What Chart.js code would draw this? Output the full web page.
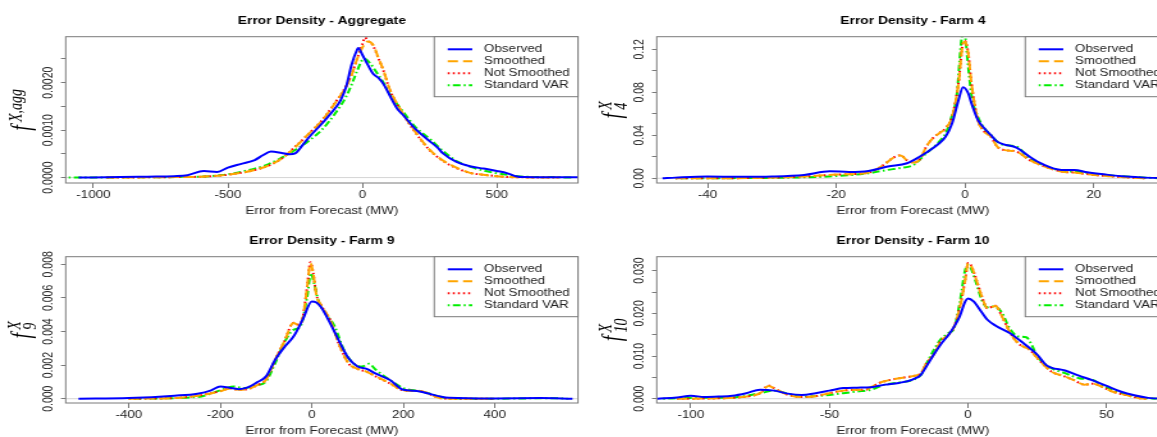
<!DOCTYPE html>
<html>
<head>
<meta charset="utf-8">
<script src="https://cdn.jsdelivr.net/npm/chart.js@4.4.1/dist/chart.umd.min.js"></script>
<style>
  html, body { margin: 0; padding: 0; background: #fff; width: 1157px; height: 437px; overflow: hidden; position: relative; }
  .panel { position: absolute; width: 591px; height: 220px; }
  .panel canvas { position: absolute; left: 0; top: 0; transform-origin: 0 0; transform: scaleX(1.28); }
</style>
</head>
<body>
<div class="panel" style="left:0;top:0"><canvas id="agg"></canvas></div>
<div class="panel" style="left:591px;top:0"><canvas id="farm4"></canvas></div>
<div class="panel" style="left:0;top:220px"><canvas id="farm9"></canvas></div>
<div class="panel" style="left:591px;top:220px"><canvas id="farm10"></canvas></div>
<script>
// ---- Aggregate ----
const aggObsX = [-1055, -900, -800, -700, -650, -590, -540, -500, -450, -400, -370, -340, -300, -270, -250, -220, -200, -150, -100, -80, -60, -40, -20, -15, 0, 20, 40, 60, 80, 100, 130, 150, 200, 250, 280, 300, 350, 400, 450, 500, 540, 570, 600, 700, 802];
const aggObsY = [0, 0.00001, 0.00002, 0.00003, 0.00005, 0.00014, 0.00012, 0.00021, 0.00029, 0.00037, 0.00047, 0.00055, 0.00052, 0.00049, 0.00051, 0.0007, 0.00084, 0.00114, 0.00147, 0.00164, 0.00192, 0.00238, 0.00269, 0.00273, 0.00259, 0.00238, 0.00219, 0.0021, 0.00196, 0.00175, 0.00145, 0.00133, 0.00101, 0.00077, 0.00063, 0.00051, 0.00033, 0.00024, 0.00019, 0.00014, 0.00009, 0.00003, 0.00001, 0.000005, 0.000005];
const aggSmX = [-950, -800, -700, -600, -500, -400, -350, -300, -250, -200, -150, -100, -60, -40, -20, 0, 20, 40, 60, 80, 100, 150, 200, 250, 300, 350, 400, 450, 500, 550, 600, 730];
const aggSmY = [0, 0.000005, 0.00001, 0.00002, 0.00006, 0.00016, 0.00025, 0.00040, 0.00064, 0.00092, 0.00120, 0.00158, 0.00192, 0.00216, 0.00249, 0.00274, 0.00287, 0.0028, 0.00252, 0.00224, 0.00189, 0.00136, 0.00094, 0.00059, 0.00036, 0.00021, 0.0001, 0.00006, 0.00003, 0.00001, 0.000005, 0];
const aggNsX = [-950, -800, -700, -600, -500, -400, -350, -300, -250, -200, -150, -100, -60, -40, -20, 0, 10, 20, 40, 60, 80, 100, 150, 200, 250, 300, 350, 400, 450, 500, 550, 600, 730];
const aggNsY = [0, 0.000005, 0.00001, 0.00002, 0.00006, 0.00016, 0.00025, 0.00040, 0.00065, 0.00092, 0.00121, 0.00159, 0.00193, 0.00217, 0.0025, 0.00281, 0.00295, 0.00289, 0.00278, 0.00251, 0.00223, 0.00188, 0.00135, 0.00093, 0.00058, 0.00035, 0.0002, 0.0001, 0.00006, 0.00003, 0.00001, 0.000005, 0];
const aggVarX = [-1092, -900, -700, -600, -500, -400, -350, -300, -250, -200, -150, -100, -60, -40, -20, 0, 10, 30, 50, 80, 100, 150, 200, 250, 300, 350, 400, 450, 500, 550, 600, 700, 780];
const aggVarY = [0, 0.000005, 0.00001, 0.00002, 0.00007, 0.00019, 0.00028, 0.00042, 0.00058, 0.00077, 0.00101, 0.00136, 0.00171, 0.00196, 0.00224, 0.00248, 0.0025, 0.0024, 0.00224, 0.00199, 0.00178, 0.0014, 0.00105, 0.00082, 0.00056, 0.00035, 0.00023, 0.00015, 0.00009, 0.00005, 0.00002, 0.00001, 0];

// ---- Farm 4 ----
const f4ObsX = [-47, -45, -40, -35, -30, -25, -21, -18, -15, -12, -9, -7, -5, -4, -3, -2, -1, -0.3, 0.5, 1, 2, 3, 4, 5, 6, 8, 10, 12, 15, 17, 19, 22, 25, 28, 31.7];
const f4ObsY = [0, 0.0006, 0.0016, 0.0013, 0.0016, 0.0031, 0.0065, 0.0059, 0.0068, 0.0109, 0.014, 0.0202, 0.0279, 0.0326, 0.0388, 0.0512, 0.0729, 0.0847, 0.0791, 0.0698, 0.0543, 0.0465, 0.0403, 0.0341, 0.0316, 0.0285, 0.0202, 0.0133, 0.0078, 0.0078, 0.0056, 0.0034, 0.0016, 0.0006, 0.0002];
const f4SmX = [-45, -40, -30, -25, -20, -15, -13, -11, -10, -9, -8, -7, -6, -5, -4, -3, -2, -1, -0.3, 0, 0.5, 1, 2, 3, 4, 5, 6, 8, 10, 12, 15, 17, 20, 25, 28];
const f4SmY = [0, 0, 0.0006, 0.0016, 0.0034, 0.0053, 0.0109, 0.0195, 0.0212, 0.0165, 0.0146, 0.0177, 0.0295, 0.0372, 0.0419, 0.0465, 0.0574, 0.0884, 0.1256, 0.1271, 0.1163, 0.0884, 0.0543, 0.0434, 0.0388, 0.0295, 0.0264, 0.0248, 0.0171, 0.0118, 0.0062, 0.0053, 0.0031, 0.0009, 0];
const f4NsX = [-45, -40, -30, -25, -20, -15, -13, -11, -10, -9, -8, -7, -6, -5, -4, -3, -2, -1, -0.3, 0, 0.5, 1, 2, 3, 4, 5, 6, 8, 10, 12, 15, 17, 20, 25, 28];
const f4NsY = [0, 0, 0.0006, 0.0016, 0.0034, 0.0053, 0.011, 0.0196, 0.0214, 0.0166, 0.0146, 0.0178, 0.0296, 0.0373, 0.042, 0.0466, 0.0576, 0.089, 0.1262, 0.1276, 0.1166, 0.0886, 0.0544, 0.0435, 0.0388, 0.0295, 0.0264, 0.0248, 0.0171, 0.0118, 0.0062, 0.0053, 0.0031, 0.0009, 0];
const f4VarX = [-45, -30, -20, -15, -12, -10, -8, -6, -4, -3, -2, -1.3, -0.5, -0.1, 0.4, 1, 2, 3, 4, 5, 6, 8, 10, 12, 15, 18, 20, 25, 30];
const f4VarY = [0, 0.0004, 0.002, 0.0047, 0.0078, 0.0096, 0.0124, 0.0233, 0.0341, 0.0419, 0.0589, 0.076, 0.131, 0.136, 0.11, 0.0775, 0.0574, 0.0465, 0.0403, 0.0341, 0.031, 0.0295, 0.0186, 0.0124, 0.0071, 0.0059, 0.004, 0.0016, 0];

// ---- Farm 9 ----
const f9ObsX = [-510, -400, -300, -250, -220, -200, -180, -160, -140, -120, -100, -80, -60, -40, -20, 0, 10, 20, 40, 60, 80, 100, 120, 140, 170, 200, 230, 250, 280, 300, 400, 500, 570];
const f9ObsY = [0, 0.00004, 0.00018, 0.0003, 0.0005, 0.00073, 0.00065, 0.00057, 0.00067, 0.00097, 0.00133, 0.00232, 0.00307, 0.0037, 0.0047, 0.00578, 0.00572, 0.00545, 0.0045, 0.00341, 0.00242, 0.00192, 0.00178, 0.00149, 0.00113, 0.00053, 0.00046, 0.00034, 0.00014, 0.00006, 0.00002, 0.00004, 0];
const f9SmX = [-400, -300, -250, -200, -180, -160, -140, -120, -100, -80, -60, -40, -30, -20, -10, -3, 3, 10, 20, 40, 60, 80, 100, 120, 140, 170, 200, 240, 260, 280, 300, 400];
const f9SmY = [0, 0.00004, 0.00018, 0.00044, 0.0006, 0.00053, 0.00057, 0.0008, 0.00113, 0.00232, 0.00341, 0.0045, 0.0044, 0.00479, 0.00667, 0.00806, 0.00747, 0.00618, 0.00558, 0.00469, 0.00321, 0.00212, 0.00178, 0.0016, 0.00133, 0.00093, 0.0005, 0.00044, 0.00024, 0.00004, 0, 0];
const f9NsX = [-400, -300, -250, -200, -180, -160, -140, -120, -100, -80, -60, -40, -30, -20, -10, -3, 3, 10, 20, 40, 60, 80, 100, 120, 140, 170, 200, 240, 260, 280, 300, 400];
const f9NsY = [0, 0.00004, 0.00018, 0.00045, 0.00061, 0.00053, 0.00057, 0.0008, 0.00114, 0.00233, 0.00342, 0.00452, 0.00441, 0.0048, 0.0067, 0.00812, 0.0075, 0.0062, 0.00558, 0.00469, 0.0032, 0.00211, 0.00177, 0.0016, 0.00132, 0.00092, 0.0005, 0.00045, 0.00024, 0.00004, 0, 0];
const f9VarX = [-400, -250, -200, -170, -150, -120, -100, -80, -60, -40, -25, -10, -2, 5, 15, 30, 50, 70, 90, 110, 125, 140, 170, 200, 240, 270, 300, 400, 520, 560];
const f9VarY = [0, 0.0001, 0.0005, 0.00073, 0.00063, 0.0008, 0.00103, 0.00212, 0.00335, 0.0041, 0.0043, 0.00608, 0.00747, 0.00687, 0.00578, 0.00509, 0.0043, 0.00291, 0.00212, 0.00192, 0.00208, 0.00172, 0.00113, 0.00063, 0.00044, 0.0002, 0.00002, 0, 0.00003, 0];

// ---- Farm 10 ----
const f10ObsX = [-112, -105, -100, -95, -90, -85, -80, -75, -70, -65, -60, -55, -50, -45, -40, -35, -30, -25, -20, -17, -15, -12, -10, -7, -5, -3, -1, 0, 2, 5, 7, 10, 15, 20, 25, 28, 30, 35, 40, 45, 50, 55, 60, 65, 72.5];
const f10ObsY = [0, 0.0003, 0.0007, 0.0004, 0.0005, 0.0007, 0.0013, 0.0021, 0.0019, 0.0012, 0.0009, 0.0013, 0.0019, 0.0025, 0.0026, 0.0027, 0.0033, 0.0037, 0.0045, 0.0056, 0.0076, 0.0107, 0.0126, 0.015, 0.0169, 0.0193, 0.0228, 0.0235, 0.0228, 0.0202, 0.0185, 0.0171, 0.0154, 0.013, 0.0103, 0.008, 0.0073, 0.0066, 0.0054, 0.0043, 0.003, 0.0017, 0.0008, 0.0002, 0];
const f10SmX = [-105, -90, -80, -75, -72, -70, -65, -60, -55, -50, -45, -40, -37, -35, -32, -30, -25, -20, -17, -15, -12, -10, -7, -5, -3, -1, 0, 1, 3, 5, 7, 10, 12, 15, 18, 20, 22, 25, 30, 35, 38, 42, 45, 48, 52, 58, 62, 65];
const f10SmY = [0, 0.0001, 0.0005, 0.0013, 0.003, 0.0025, 0.0009, 0.0004, 0.0006, 0.0013, 0.0019, 0.0021, 0.0021, 0.0027, 0.0037, 0.0041, 0.0048, 0.0053, 0.006, 0.0083, 0.0107, 0.0134, 0.015, 0.0169, 0.0212, 0.0278, 0.0317, 0.0313, 0.0278, 0.0239, 0.0212, 0.0217, 0.0196, 0.0157, 0.013, 0.0122, 0.0116, 0.0095, 0.0064, 0.0052, 0.0044, 0.0033, 0.0035, 0.0029, 0.0017, 0.0007, 0.0001, 0];
const f10NsX = [-105, -90, -80, -75, -72, -70, -65, -60, -55, -50, -45, -40, -37, -35, -32, -30, -25, -20, -17, -15, -12, -10, -7, -5, -3, -1, 0, 1, 3, 5, 7, 10, 12, 15, 18, 20, 22, 25, 30, 35, 38, 42, 45, 48, 52, 58, 62, 65];
const f10NsY = [0, 0.0001, 0.0005, 0.0013, 0.0031, 0.0025, 0.0009, 0.0004, 0.0006, 0.0013, 0.0019, 0.0021, 0.0021, 0.0027, 0.0037, 0.0041, 0.0048, 0.0053, 0.006, 0.0083, 0.0107, 0.0134, 0.015, 0.0169, 0.0213, 0.028, 0.0318, 0.0314, 0.0279, 0.0239, 0.0212, 0.0218, 0.0196, 0.0157, 0.013, 0.0122, 0.0116, 0.0095, 0.0064, 0.0052, 0.0044, 0.0033, 0.0035, 0.0029, 0.0017, 0.0007, 0.0001, 0];
const f10VarX = [-110, -100, -85, -75, -70, -65, -60, -50, -45, -40, -35, -30, -25, -20, -17, -15, -12, -10, -7, -5, -3, -1, 0, 1, 3, 5, 7, 9, 12, 15, 18, 21, 23, 25, 30, 35, 40, 45, 48, 52, 58, 63, 68];
const f10VarY = [0, 0.0002, 0.0003, 0.0013, 0.0019, 0.0012, 0.0005, 0.0009, 0.0013, 0.0017, 0.0021, 0.0033, 0.0038, 0.0044, 0.0056, 0.0082, 0.0118, 0.0138, 0.0154, 0.0165, 0.0224, 0.0302, 0.0313, 0.0306, 0.027, 0.0231, 0.0214, 0.0216, 0.0204, 0.0165, 0.0146, 0.0144, 0.0126, 0.0099, 0.0072, 0.006, 0.0048, 0.0044, 0.0033, 0.0021, 0.0009, 0.0002, 0];

// ---- ticks ----
const aggXTicks = [-1000, -500, 0, 500];
const aggYTicks = [0, 0.0005, 0.001, 0.0015, 0.002, 0.0025];
const aggYLabels = ['0.0000', '', '0.0010', '', '0.0020', ''];
const f4XTicks = [-40, -20, 0, 20];
const f4YTicks = [0, 0.02, 0.04, 0.06, 0.08, 0.10, 0.12];
const f4YLabels = ['0.00', '', '0.04', '', '0.08', '', '0.12'];
const f9XTicks = [-400, -200, 0, 200, 400];
const f9YTicks = [0, 0.002, 0.004, 0.006, 0.008];
const f9YLabels = ['0.000', '0.002', '0.004', '0.006', '0.008'];
const f10XTicks = [-100, -50, 0, 50];
const f10YTicks = [0, 0.005, 0.01, 0.015, 0.02, 0.025, 0.03];
const f10YLabels = ['0.000', '', '0.010', '', '0.020', '', '0.030'];

const seriesNames = ['Observed', 'Smoothed', 'Not Smoothed', 'Standard VAR'];
const seriesColors = ['#0000ff', '#ffa500', '#ff0000', '#00ee00'];
const seriesDash = [[], [8, 4], [1.5, 2.5], [1.5, 2.5, 6, 2.5]];

const SX = 1.28;      // horizontal stretch of the reference picture
const CW = 462, CH = 220;
const FONT = '"Liberation Sans", Arial, Helvetica, sans-serif';

Chart.defaults.font.family = FONT;
Chart.defaults.font.size = 10.5;
Chart.defaults.color = '#222';

// R-like decorations: zero line, box, title, legend, rotated y labels
const rDecor = {
  id: 'rDecor',
  beforeDatasetsDraw(chart) {
    const { ctx, chartArea: a, scales: { y } } = chart;
    const y0 = y.getPixelForValue(0);
    ctx.save();
    ctx.strokeStyle = '#d4d4d4';
    ctx.lineWidth = 1;
    ctx.beginPath();
    ctx.moveTo(a.left, y0);
    ctx.lineTo(a.right, y0);
    ctx.stroke();
    ctx.restore();
  },
  afterDraw(chart, args, opts) {
    const { ctx, chartArea: a, scales: { y } } = chart;
    ctx.save();

    // box
    ctx.strokeStyle = '#7a7a7a';
    ctx.lineWidth = 1;
    ctx.strokeRect(a.left, a.top, a.right - a.left, a.bottom - a.top);

    // y tick labels, parallel to the axis
    ctx.font = '10.5px ' + FONT;
    ctx.fillStyle = '#222';
    ctx.textAlign = 'center';
    ctx.textBaseline = 'middle';
    y.ticks.forEach(t => {
      if (!t.label) return;
      ctx.save();
      ctx.translate(a.left - 13.6, y.getPixelForValue(t.value));
      ctx.rotate(-Math.PI / 2);
      ctx.fillText(t.label, 0, 0);
      ctx.restore();
    });

    // title
    ctx.font = 'bold 10.8px ' + FONT;
    ctx.fillStyle = '#000';
    ctx.fillText(opts.title, (a.left + a.right) / 2, 21);

    // y axis label  f^{sup}_{sub}
    ctx.save();
    ctx.translate(a.left - 34, (a.top + a.bottom) / 2);
    ctx.rotate(-Math.PI / 2);
    const fBig = 'italic 20px "Liberation Serif", "DejaVu Serif", serif';
    const fSmall = 'italic 14px "Liberation Serif", "DejaVu Serif", serif';
    ctx.font = fBig;
    const wf = ctx.measureText('f').width;
    ctx.font = fSmall;
    const ws = Math.max(ctx.measureText(opts.ySup).width, opts.ySub ? ctx.measureText(opts.ySub).width : 0);
    let cx = -(wf + 3 + ws) / 2;
    ctx.textAlign = 'left';
    ctx.textBaseline = 'alphabetic';
    ctx.fillStyle = '#000';
    ctx.font = fBig;
    ctx.fillText('f', cx, 6);
    cx += wf + 3;
    ctx.font = fSmall;
    ctx.fillText(opts.ySup, cx, opts.ySub ? -1 : 0);
    if (opts.ySub) ctx.fillText(opts.ySub, cx, 11);
    ctx.restore();

    // legend
    const lw = 112.3, lh = 60;
    const lx = a.right - lw, ly = a.top;
    ctx.fillStyle = '#fff';
    ctx.fillRect(lx, ly, lw, lh);
    ctx.strokeStyle = '#7a7a7a';
    ctx.lineWidth = 1;
    ctx.strokeRect(lx, ly, lw, lh);
    ctx.font = '10.5px ' + FONT;
    ctx.textAlign = 'left';
    ctx.textBaseline = 'middle';
    chart.data.datasets.forEach((ds, i) => {
      const yy = ly + 12.6 + 12 * i;
      ctx.strokeStyle = ds.borderColor;
      ctx.lineWidth = ds.borderWidth;
      ctx.setLineDash(ds.borderDash);
      ctx.beginPath();
      ctx.moveTo(lx + 10.5, yy);
      ctx.lineTo(lx + 29.7, yy);
      ctx.stroke();
      ctx.setLineDash([]);
      ctx.fillStyle = '#222';
      ctx.fillText(ds.label, lx + 38.8, yy);
    });
    ctx.restore();
  }
};

function densityPanel(id, title, ySup, ySub, xs, ys, xMin, xMax, yMin, yMax, xTicks, yTicks, yLabels) {
  const canvas = document.getElementById(id);
  canvas.width = CW;
  canvas.height = CH;
  return new Chart(canvas, {
    type: 'line',
    data: {
      datasets: seriesNames.map((name, i) => ({
        label: name,
        data: xs[i].map((x, j) => ({ x: x, y: ys[i][j] })),
        borderColor: seriesColors[i],
        borderWidth: 2,
        borderDash: seriesDash[i],
        pointRadius: 0,
        fill: false,
        cubicInterpolationMode: 'monotone'
      }))
    },
    options: {
      responsive: false,
      animation: false,
      layout: { padding: { left: 0, right: CW - 578 / SX, top: 36.7, bottom: 0 } },
      plugins: {
        legend: { display: false },
        tooltip: { enabled: false },
        rDecor: { title: title, ySup: ySup, ySub: ySub }
      },
      scales: {
        x: {
          type: 'linear',
          min: xMin,
          max: xMax,
          afterBuildTicks: s => { s.ticks = xTicks.map(v => ({ value: v })); },
          afterFit: s => { s.height = 37; },
          grid: { drawOnChartArea: false, drawTicks: true, tickLength: 5, color: '#7a7a7a' },
          border: { display: false },
          ticks: { autoSkip: false, maxRotation: 0, padding: 1, color: '#222', callback: v => String(v) },
          title: { display: true, text: 'Error from Forecast (MW)', color: '#222', padding: { top: 0, bottom: 2.5 } }
        },
        y: {
          type: 'linear',
          min: yMin,
          max: yMax,
          afterBuildTicks: s => { s.ticks = yTicks.map(v => ({ value: v })); },
          afterFit: s => { s.width = 65.7 / SX; },
          grid: { drawOnChartArea: false, drawTicks: true, tickLength: 3.7, color: '#7a7a7a' },
          border: { display: false },
          ticks: { display: false, callback: (v, i) => yLabels[i] }
        }
      }
    },
    plugins: [rDecor]
  });
}

densityPanel('agg', 'Error Density - Aggregate', 'X,agg', '',
  [aggObsX, aggSmX, aggNsX, aggVarX], [aggObsY, aggSmY, aggNsY, aggVarY],
  -1103, 802, -0.000114, 0.00297, aggXTicks, aggYTicks, aggYLabels);
densityPanel('farm4', 'Error Density - Farm 4', 'X', '4',
  [f4ObsX, f4SmX, f4NsX, f4VarX], [f4ObsY, f4SmY, f4NsY, f4VarY],
  -47.9, 31.7, -0.0044, 0.1317, f4XTicks, f4YTicks, f4YLabels);
densityPanel('farm9', 'Error Density - Farm 9', 'X', '9',
  [f9ObsX, f9SmX, f9NsX, f9VarX], [f9ObsY, f9SmY, f9NsY, f9VarY],
  -538, 582, -0.000255, 0.00845, f9XTicks, f9YTicks, f9YLabels);
densityPanel('farm10', 'Error Density - Farm 10', 'X', '10',
  [f10ObsX, f10SmX, f10NsX, f10VarX], [f10ObsY, f10SmY, f10NsY, f10VarY],
  -112.3, 72.5, -0.001, 0.03327, f10XTicks, f10YTicks, f10YLabels);
</script>
</body>
</html>
